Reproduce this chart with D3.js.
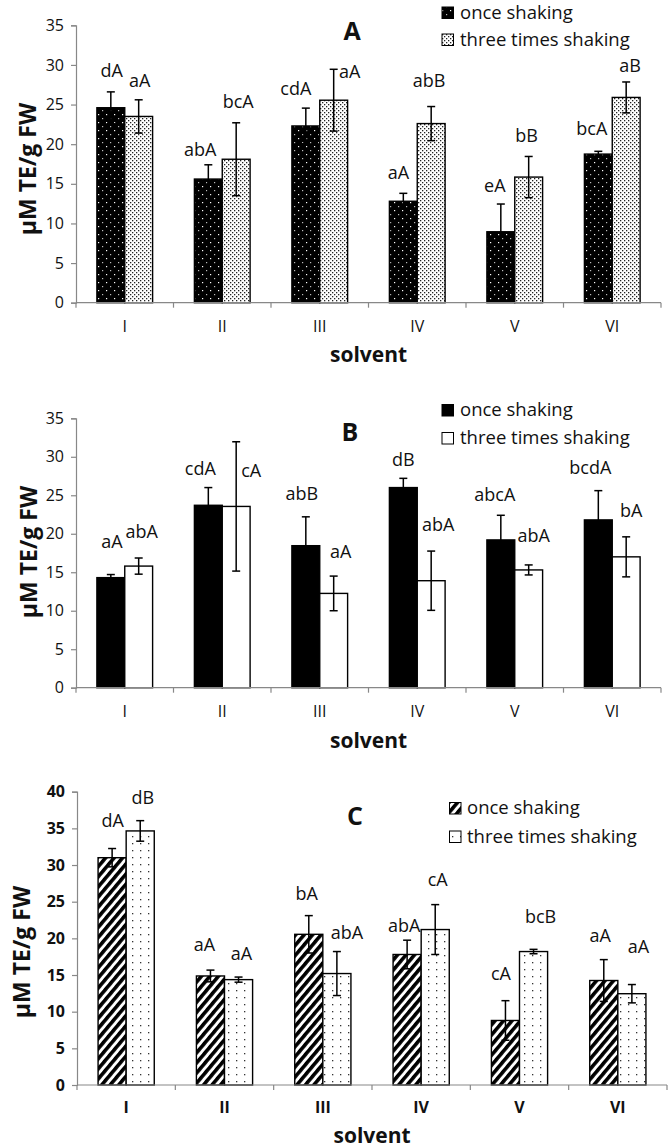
<!DOCTYPE html>
<html>
<head>
<meta charset="utf-8">
<script src="https://cdn.jsdelivr.net/npm/d3@7/dist/d3.min.js"></script>
<style>
  html, body { margin: 0; padding: 0; background: #fff; }
  svg { display: block; font-family: "Open Sans", "Liberation Sans", sans-serif; }
</style>
</head>
<body>
<svg id="chart" width="668" height="1148"></svg>
<script>
// ---------------- DATA ----------------
const categories = ["I", "II", "III", "IV", "V", "VI"];
const seriesNames = ["once shaking", "three times shaking"];
const yTicksAB = [0, 5, 10, 15, 20, 25, 30, 35];
const yTicksC = [0, 5, 10, 15, 20, 25, 30, 35, 40];

// Panel A
const aOnce = [24.6, 15.6, 22.3, 12.8, 8.95, 18.75];
const aOnceErr = [2.0, 1.8, 2.25, 1.0, 3.5, 0.35];
const aThree = [23.5, 18.1, 25.55, 22.6, 15.85, 25.9];
const aThreeErr = [2.1, 4.6, 3.9, 2.15, 2.6, 1.95];
const aOnceLabels = ["dA", "abA", "cdA", "aA", "eA", "bcA"];
const aThreeLabels = ["aA", "bcA", "aA", "abB", "bB", "aB"];
const aOnceLabelAt = [28.5, 18.5, 26.2, 15.6, 14.0, 21.15];
const aThreeLabelAt = [27.2, 24.6, 28.3, 27.2, 20.3, 29.05];

// Panel B
const bOnce = [14.3, 23.7, 18.45, 26.0, 19.2, 21.8];
const bOnceErr = [0.4, 2.3, 3.75, 1.2, 3.2, 3.8];
const bThree = [15.8, 23.55, 12.25, 13.9, 15.3, 17.0];
const bThreeErr = [1.05, 8.4, 2.25, 3.85, 0.65, 2.6];
const bOnceLabels = ["aA", "cdA", "abB", "dB", "abcA", "bcdA"];
const bThreeLabels = ["abA", "cA", "aA", "abA", "abA", "bA"];
const bOnceLabelAt = [18.1, 27.6, 24.4, 28.8, 24.2, 27.8];
const bThreeLabelAt = [19.4, 27.4, 16.8, 20.3, 18.9, 22.2];

// Panel C
const cOnce = [31.0, 14.87, 20.55, 17.8, 8.8, 14.25];
const cOnceErr = [1.25, 0.8, 2.55, 1.95, 2.7, 2.85];
const cThree = [34.65, 14.37, 15.2, 21.2, 18.2, 12.45];
const cThreeErr = [1.4, 0.35, 3.0, 3.4, 0.3, 1.25];
const cOnceLabels = ["dA", "aA", "bA", "abA", "cA", "aA"];
const cThreeLabels = ["dB", "aA", "abA", "cA", "bcB", "aA"];
const cOnceLabelAt = [35.15, 18.3, 25.2, 20.9, 14.3, 19.55];
const cThreeLabelAt = [38.3, 17.05, 19.9, 27.15, 22.05, 18.0];

// ---------------- LAYOUT (positions / styles) ----------------
const panels = [
  {
    title: "A", x0: 76, x1: 661, yTop: 25.3, yBottom: 302.7, yMax: 35, ticks: yTicksAB, boldTicks: false,
    values: [aOnce, aThree], errs: [aOnceErr, aThreeErr], labels: [aOnceLabels, aThreeLabels],
    labelAt: [aOnceLabelAt, aThreeLabelAt],
    labelDx: [[1, -8, -10, -5, -6, -6.5], [1, 2, 16, -2, -2, 4]],
    fills: ["url(#patAOnce)", "url(#patAThree)"],
    titleX: 352, titleY: 40, legX: 442, legY: [7, 34], legTextX: 460,
    xLabY: 332, solventY: 362, yLabX: 27.5, yLabY: 169
  },
  {
    title: "B", x0: 76, x1: 661, yTop: 418.3, yBottom: 687.7, yMax: 35, ticks: yTicksAB, boldTicks: false,
    values: [bOnce, bThree], errs: [bOnceErr, bThreeErr], labels: [bOnceLabels, bThreeLabels],
    labelAt: [bOnceLabelAt, bThreeLabelAt],
    labelDx: [[1, -8, -4, 0, -6, -8], [3, 15, 7, 7, 5, 5]],
    fills: ["#000", "#fff"],
    titleX: 350, titleY: 441, legX: 442, legY: [404.5, 432.5], legTextX: 460,
    xLabY: 717, solventY: 748, yLabX: 29, yLabY: 552
  },
  {
    title: "C", x0: 77, x1: 667, yTop: 791.7, yBottom: 1085, yMax: 40, ticks: yTicksC, boldTicks: true,
    values: [cOnce, cThree], errs: [cOnceErr, cThreeErr], labels: [cOnceLabels, cThreeLabels],
    labelAt: [cOnceLabelAt, cThreeLabelAt],
    labelDx: [[0.5, -6, -2, -3, -4.5, -3.5], [2.5, 3, 10, 2.5, 7, 6.5]],
    fills: ["url(#patCOnce)", "url(#patCThree)"],
    titleX: 355, titleY: 825, legX: 449.5, legY: [802.5, 831], legTextX: 467,
    xLabY: 1113, solventY: 1143, yLabX: 22, yLabY: 952
  }
];

const svg = d3.select("#chart");
const defs = svg.append("defs");

// Patterns
(function () {
  const p1 = defs.append("pattern").attr("id", "patAOnce").attr("patternUnits", "userSpaceOnUse")
    .attr("width", 8).attr("height", 8);
  p1.append("rect").attr("width", 8).attr("height", 8).attr("fill", "#000");
  p1.append("rect").attr("x", 2).attr("y", 2).attr("width", 1.2).attr("height", 1.2).attr("fill", "#fff");
  p1.append("rect").attr("x", 6).attr("y", 6).attr("width", 1.2).attr("height", 1.2).attr("fill", "#bbb");
  const p2 = defs.append("pattern").attr("id", "patAThree").attr("patternUnits", "userSpaceOnUse")
    .attr("width", 4).attr("height", 4);
  p2.append("rect").attr("width", 4).attr("height", 4).attr("fill", "#fff");
  p2.append("rect").attr("x", 0).attr("y", 0).attr("width", 1.3).attr("height", 1.3).attr("fill", "#222");
  p2.append("rect").attr("x", 2).attr("y", 2).attr("width", 1.3).attr("height", 1.3).attr("fill", "#222");
  const p3 = defs.append("pattern").attr("id", "patCOnce").attr("patternUnits", "userSpaceOnUse")
    .attr("width", 6.5).attr("height", 6.5).attr("patternTransform", "rotate(40)");
  p3.append("rect").attr("width", 6.5).attr("height", 6.5).attr("fill", "#fff");
  p3.append("rect").attr("x", 0).attr("width", 3.6).attr("height", 6.5).attr("fill", "#000");
  const p4 = defs.append("pattern").attr("id", "patCThree").attr("patternUnits", "userSpaceOnUse")
    .attr("width", 8).attr("height", 7);
  p4.append("rect").attr("width", 8).attr("height", 7).attr("fill", "#fff");
  p4.append("rect").attr("x", 4).attr("y", 3).attr("width", 1.3).attr("height", 1.3).attr("fill", "#333");
})();

const axisColor = "#888";

panels.forEach(P => {
  const g = svg.append("g");
  const x = d3.scaleBand().domain(categories).range([P.x0, P.x1]).padding(0);
  const xs = d3.scaleBand().domain([0, 1]).range([0, x.bandwidth()]).paddingInner(0).paddingOuter(0.75);
  const y = d3.scaleLinear().domain([0, P.yMax]).range([P.yBottom, P.yTop]);

  // Y axis
  const yAxis = g.append("g").attr("transform", `translate(${P.x0},0)`)
    .call(d3.axisLeft(y).tickValues(P.ticks).tickSize(5).tickPadding(7).tickFormat(d3.format("d")));
  yAxis.select(".domain").attr("stroke", axisColor).attr("stroke-width", 1.2);
  yAxis.selectAll(".tick line").attr("stroke", axisColor).attr("stroke-width", 1.2);
  yAxis.selectAll(".tick text").attr("fill", "#111")
    .style("font-size", "16px").style("font-family", "Open Sans")
    .style("font-weight", P.boldTicks ? "bold" : "normal");

  // Bars
  [0, 1].forEach(s => {
    g.append("g").selectAll("rect").data(categories).join("rect")
      .attr("x", c => x(c) + xs(s))
      .attr("y", (c, i) => y(P.values[s][i]))
      .attr("width", xs.bandwidth())
      .attr("height", (c, i) => y(0) - y(P.values[s][i]))
      .attr("fill", P.fills[s])
      .attr("stroke", "#000").attr("stroke-width", 1.4);
  });

  // Error bars
  [0, 1].forEach(s => {
    const eg = g.append("g").attr("stroke", "#000").attr("stroke-width", 1.5).attr("fill", "none");
    categories.forEach((c, i) => {
      const cx = x(c) + xs(s) + xs.bandwidth() / 2;
      const v = P.values[s][i], e = P.errs[s][i];
      const yt = y(v + e), yb = y(Math.max(0, v - e));
      eg.append("line").attr("x1", cx).attr("x2", cx).attr("y1", yt).attr("y2", yb);
      eg.append("line").attr("x1", cx - 4).attr("x2", cx + 4).attr("y1", yt).attr("y2", yt);
      eg.append("line").attr("x1", cx - 4).attr("x2", cx + 4).attr("y1", yb).attr("y2", yb);
    });
  });

  // X axis line and boundary ticks
  g.append("line").attr("x1", P.x0).attr("x2", P.x1).attr("y1", y(0)).attr("y2", y(0))
    .attr("stroke", axisColor).attr("stroke-width", 1.2);
  const bounds = categories.map(c => x(c)).concat([P.x1]);
  g.append("g").selectAll("line").data(bounds).join("line")
    .attr("x1", d => d).attr("x2", d => d).attr("y1", y(0)).attr("y2", y(0) + 5)
    .attr("stroke", axisColor).attr("stroke-width", 1.2);

  // X labels
  g.append("g").selectAll("text").data(categories).join("text")
    .attr("x", c => x(c) + x.bandwidth() / 2).attr("y", P.xLabY)
    .attr("text-anchor", "middle").attr("fill", "#111")
    .style("font-size", "16px").style("font-weight", P.boldTicks ? "bold" : "normal")
    .text(c => c);

  // Significance labels
  [0, 1].forEach(s => {
    g.append("g").selectAll("text").data(categories).join("text")
      .attr("x", (c, i) => x(c) + xs(s) + xs.bandwidth() / 2 + P.labelDx[s][i])
      .attr("y", (c, i) => y(P.labelAt[s][i]))
      .attr("text-anchor", "middle").attr("fill", "#111")
      .style("font-size", "18px")
      .text((c, i) => P.labels[s][i]);
  });

  // Title
  g.append("text").attr("x", P.titleX).attr("y", P.titleY).attr("text-anchor", "middle")
    .style("font-size", "25px").style("font-weight", "bold").attr("fill", "#111").text(P.title);

  // Legend
  seriesNames.forEach((name, s) => {
    g.append("rect").attr("x", P.legX).attr("y", P.legY[s]).attr("width", 11.5).attr("height", 11.5)
      .attr("fill", P.fills[s]).attr("stroke", "#000").attr("stroke-width", 1);
    g.append("text").attr("x", P.legTextX).attr("y", P.legY[s] + 11.5)
      .style("font-size", "18.5px").attr("fill", "#111").text(name);
  });

  // Axis titles
  g.append("text").attr("x", (P.x0 + P.x1) / 2).attr("y", P.solventY).attr("text-anchor", "middle")
    .style("font-size", "21px").style("font-weight", "bold").attr("fill", "#111").text("solvent");
  g.append("text").attr("transform", `translate(${P.yLabX + 8},${P.yLabY}) rotate(-90)`)
    .attr("text-anchor", "middle")
    .style("font-size", "23px").style("font-weight", "bold").attr("fill", "#111").text("µM TE/g FW");
});
</script>
</body>
</html>
